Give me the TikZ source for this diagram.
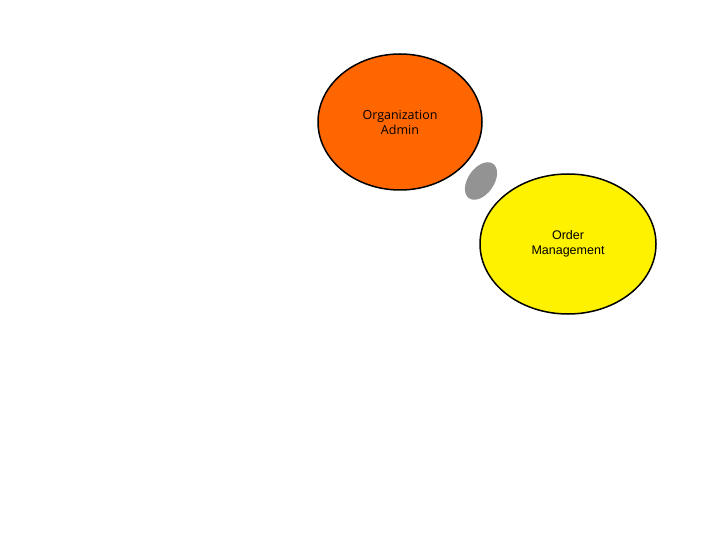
\documentclass[tikz,border=0pt]{standalone}
\usepackage{fontspec}
\setmainfont{Liberation Sans}
\newfontfamily\ofont{Open Sans}
\usetikzlibrary{shapes.geometric}
\begin{document}
\begin{tikzpicture}[x=1pt,y=-1pt,
  blob/.style={ellipse,draw=black,line width=1.5pt,inner sep=0pt,align=center,font=\fontsize{12.5}{15}\selectfont}]
\useasboundingbox (0,0) rectangle (720,540);
\node[blob,fill={rgb,255:red,255;green,102;blue,0},minimum width=164pt,minimum height=136pt,font=\ofont\fontsize{12.5}{15}\selectfont] (org) at (400,122) {Organization\\Admin};
\node[blob,fill=yellow,minimum width=176pt,minimum height=140pt] (ord) at (568,244) {Order\\Management};
\fill[gray!85] (481,181) coordinate (g) ellipse[x radius=13pt,y radius=21pt,rotate=-35];
\end{tikzpicture}
\end{document}
